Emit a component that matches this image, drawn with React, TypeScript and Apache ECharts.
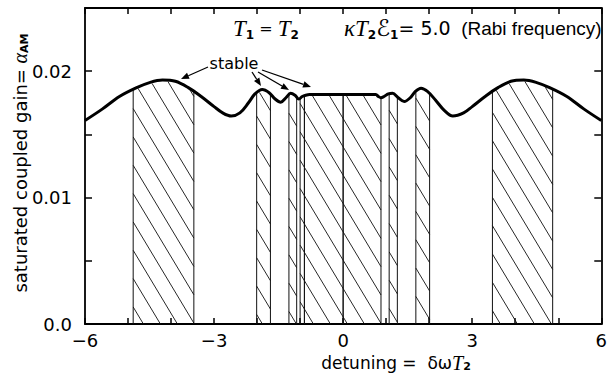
import React, { useEffect, useRef } from "react";
import * as echarts from "echarts";

// detuning (x) and saturated coupled gain (y)
const curveX = [
  -6, -5.6, -5.2, -4.8, -4.5, -4.2, -3.9, -3.6, -3.3, -3.0, -2.8, -2.6, -2.4, -2.2,
  -2.05, -1.88, -1.72, -1.58, -1.45, -1.33, -1.22, -1.12, -1.03, -0.95, -0.87, -0.78,
  -0.4, 0, 0.4, 0.76, 0.82, 0.88, 0.95, 1.05, 1.15, 1.28, 1.42, 1.56, 1.68, 1.81,
  1.96, 2.15, 2.35, 2.55, 2.8, 3.0, 3.3, 3.6, 3.9, 4.2, 4.5, 4.8, 5.2, 5.6, 6,
];
const curveY = [
  0.0161, 0.017, 0.018, 0.0187, 0.0191, 0.0193, 0.0192, 0.0187, 0.018, 0.0172, 0.0167,
  0.01645, 0.0167, 0.0175, 0.0182, 0.01855, 0.0183, 0.0178, 0.01755, 0.0179, 0.01825,
  0.0181, 0.0178, 0.018, 0.0181, 0.01815, 0.01815, 0.01815, 0.01815, 0.01815, 0.018,
  0.0179, 0.018, 0.0182, 0.01825, 0.0179, 0.0176, 0.0179, 0.0184, 0.01865, 0.0184,
  0.0177, 0.0169, 0.01645, 0.0167, 0.0172, 0.018, 0.0187, 0.0192, 0.0193, 0.0191,
  0.0187, 0.018, 0.017, 0.0161,
];

// stable (hatched) detuning intervals
const stableFrom = [-4.88, -2.01, -1.26, -1.0, -0.9, 0, 1.07, 1.69, 3.47];
const stableTo = [-3.47, -1.69, -1.08, -0.9, 0, 0.88, 1.26, 2.01, 4.87];

const xLabelValues = [-6, -3, 0, 3, 6];
const yLabelValues = [0, 0.01, 0.02];
const yLabelTexts = ["0.0", "0.01", "0.02"];

function curveAt(x: number): number {
  if (x <= curveX[0]) return curveY[0];
  for (let i = 1; i < curveX.length; i++) {
    if (x <= curveX[i]) {
      const t = (x - curveX[i - 1]) / (curveX[i] - curveX[i - 1]);
      return curveY[i - 1] + t * (curveY[i] - curveY[i - 1]);
    }
  }
  return curveY[curveY.length - 1];
}

const SANS = '"DejaVu Sans", "Liberation Sans", sans-serif';
const SERIF = '"Liberation Serif", "DejaVu Serif", serif';
const NARROW = '"Liberation Sans Narrow", "Liberation Sans", sans-serif';

function arrow(x1: number, y1: number, x2: number, y2: number) {
  const ang = Math.atan2(y2 - y1, x2 - x1);
  const L = 8, W = 3.2;
  const bx = x2 - L * Math.cos(ang), by = y2 - L * Math.sin(ang);
  const nx = -Math.sin(ang), ny = Math.cos(ang);
  return {
    type: "group",
    silent: true,
    children: [
      { type: "line", shape: { x1, y1, x2: bx, y2: by }, style: { stroke: "#000", lineWidth: 1.3 } },
      {
        type: "polygon",
        shape: { points: [[x2, y2], [bx + nx * W, by + ny * W], [bx - nx * W, by - ny * W]] },
        style: { fill: "#000" },
      },
    ],
  };
}

function makeRich(lh: number, big: number, sub: number, normal: number) {
  return {
    n: { font: `${normal}px ${SANS}`, fill: "#000", lineHeight: lh, verticalAlign: "middle" },
    q: { font: `${normal - 3}px ${SANS}`, fill: "#000", lineHeight: lh, verticalAlign: "middle" },
    g: { font: `italic ${big}px ${SERIF}`, fill: "#000", lineHeight: lh, verticalAlign: "middle" },
    i: { font: `italic ${big}px ${SERIF}`, fill: "#000", lineHeight: lh, verticalAlign: "middle" },
    e: { font: `${big}px "DejaVu Sans", "DejaVu Serif", sans-serif`, fill: "#000", lineHeight: lh, verticalAlign: "middle" },
    s: { font: `bold ${sub}px ${SANS}`, fill: "#000", lineHeight: Math.round(lh * 0.55), verticalAlign: "bottom" },
    d: { font: `${normal}px ${SANS}`, fill: "#000", lineHeight: lh, verticalAlign: "middle" },
    r: { font: `${normal}px ${NARROW}`, fill: "#000", lineHeight: lh, verticalAlign: "middle" },
  };
}

export default function App() {
  const ref = useRef<HTMLDivElement>(null);
  useEffect(() => {
    const chart = echarts.init(ref.current as HTMLDivElement, null, { renderer: "svg" });

    const renderHatch = (params: any, api: any) => {
      const a = api.value(0), b = api.value(1);
      const pA = api.coord([a, 0]);
      const pB = api.coord([b, 0]);
      const yb = pA[1];
      const o = api.coord([0, 0]);
      const u = api.coord([1, 0]);
      const toX = (px: number) => (px - o[0]) / (u[0] - o[0]);
      const topPy = (px: number) => api.coord([toX(px), curveAt(toX(px))])[1];
      const children: any[] = [];
      const k = 0.6, S = 17;
      const pa = pA[0], pb = pB[0];
      const cStart = Math.floor((pa - k * yb) / S) * S;
      for (let c = cStart; c <= pb; c += S) {
        const lo = Math.max((pa - c) / k, 0);
        const hi = Math.min((pb - c) / k, yb);
        if (lo >= hi) continue;
        let start = -1;
        for (let py = lo; py <= hi; py += 0.25) {
          if (py >= topPy(c + k * py) + 1.2) { start = py; break; }
        }
        if (start < 0) continue;
        children.push({
          type: "line",
          shape: { x1: c + k * start, y1: start, x2: c + k * hi, y2: hi },
          style: { stroke: "#111", lineWidth: 0.9 },
        });
      }
      children.push({ type: "line", shape: { x1: pa, y1: yb, x2: pa, y2: topPy(pa) }, style: { stroke: "#111", lineWidth: 1 } });
      children.push({ type: "line", shape: { x1: pb, y1: yb, x2: pb, y2: topPy(pb) }, style: { stroke: "#111", lineWidth: 1 } });
      return { type: "group", children };
    };

    const axisCommon = {
      type: "value",
      axisLine: { show: true, onZero: false, lineStyle: { color: "#000", width: 1.8 } },
      splitLine: { show: false },
    };

    const richTop = makeRich(26, 23, 12, 19);
    const richX = makeRich(18, 20, 11, 17);
    const richY = makeRich(20, 20, 11, 18);

    const option: any = {
      animation: false,
      backgroundColor: "#fff",
      grid: { left: 85, right: 7, top: 8, bottom: 57 },
      xAxis: [
        {
          ...axisCommon,
          position: "bottom",
          min: -6,
          max: 6,
          interval: 1,
          axisTick: { show: true, inside: true, length: 6, lineStyle: { color: "#000", width: 1.5 } },
          axisLabel: {
            show: true,
            margin: 7,
            color: "#000",
            fontSize: 18,
            fontFamily: SANS,
            formatter: (v: number) => {
              const r = Math.round(v);
              if (!xLabelValues.includes(r)) return "";
              return r < 0 ? "\u2212" + -r : String(r);
            },
          },
        },
        {
          ...axisCommon,
          position: "top",
          min: -6,
          max: 6,
          interval: 1,
          axisTick: { show: true, inside: true, length: 6, lineStyle: { color: "#000", width: 1.5 } },
          axisLabel: { show: false },
        },
      ],
      yAxis: [
        {
          ...axisCommon,
          position: "left",
          min: 0,
          max: 0.025,
          interval: 0.005,
          axisTick: { show: true, inside: true, length: 7, lineStyle: { color: "#000", width: 1.5 } },
          axisLabel: {
            show: true,
            margin: 13,
            color: "#000",
            fontSize: 18,
            fontFamily: SANS,
            formatter: (v: number) => {
              for (let i = 0; i < yLabelValues.length; i++) {
                if (Math.abs(v - yLabelValues[i]) < 1e-9) return yLabelTexts[i];
              }
              return "";
            },
          },
        },
        {
          ...axisCommon,
          position: "right",
          min: 0,
          max: 0.025,
          interval: 0.005,
          axisTick: { show: true, inside: true, length: 7, lineStyle: { color: "#000", width: 1.5 } },
          axisLabel: { show: false },
        },
      ],
      series: [
        {
          type: "custom",
          xAxisIndex: 0,
          yAxisIndex: 0,
          silent: true,
          z: 1,
          data: stableFrom.map((s, i) => [s, stableTo[i], 0]),
          encode: { x: [0, 1], y: 2 },
          renderItem: renderHatch,
        },
        {
          type: "line",
          xAxisIndex: 0,
          yAxisIndex: 0,
          silent: true,
          z: 3,
          smooth: 0.35,
          symbol: "none",
          lineStyle: { color: "#000", width: 3 },
          data: curveX.map((x, i) => [x, curveY[i]]),
        },
      ],
      graphic: [
        {
          type: "text",
          x: 233,
          y: 28,
          silent: true,
          style: { text: "{i|T}{s|1}{q| = }{i|T}{s|2}", rich: richTop, align: "left", verticalAlign: "middle" },
        },
        {
          type: "text",
          x: 344,
          y: 28,
          silent: true,
          style: {
            text: "{g|\u03ba}{i|T}{s|2}{e|\u2130}{s|1}{d|= 5.0}{r|  (Rabi frequency)}",
            rich: richTop,
            align: "left",
            verticalAlign: "middle",
          },
        },
        {
          type: "text",
          x: 234,
          y: 63,
          silent: true,
          style: { text: "stable", font: `16px ${SANS}`, fill: "#000", align: "center", verticalAlign: "middle" },
        },
        arrow(208, 67, 181, 79),
        arrow(252, 72, 261, 86),
        arrow(258, 72, 289, 90),
        arrow(262, 70, 311, 87),
        {
          type: "text",
          x: 396,
          y: 363,
          silent: true,
          style: { text: "{n|detuning =  \u03b4\u03c9}{i|T}{s|2}", rich: richX, align: "center", verticalAlign: "middle" },
        },
        {
          type: "text",
          x: 20,
          y: 163,
          rotation: Math.PI / 2,
          silent: true,
          style: {
            text: "{n|saturated coupled gain= }{g|\u03b1}{s|AM}",
            rich: richY,
            align: "center",
            verticalAlign: "middle",
          },
        },
      ],
    };
    chart.setOption(option);
    return () => chart.dispose();
  }, []);
  return (
    <div
      ref={ref}
      style={{ position: "fixed", left: 0, top: 0, width: 610, height: 381, background: "#fff" }}
    />
  );
}
